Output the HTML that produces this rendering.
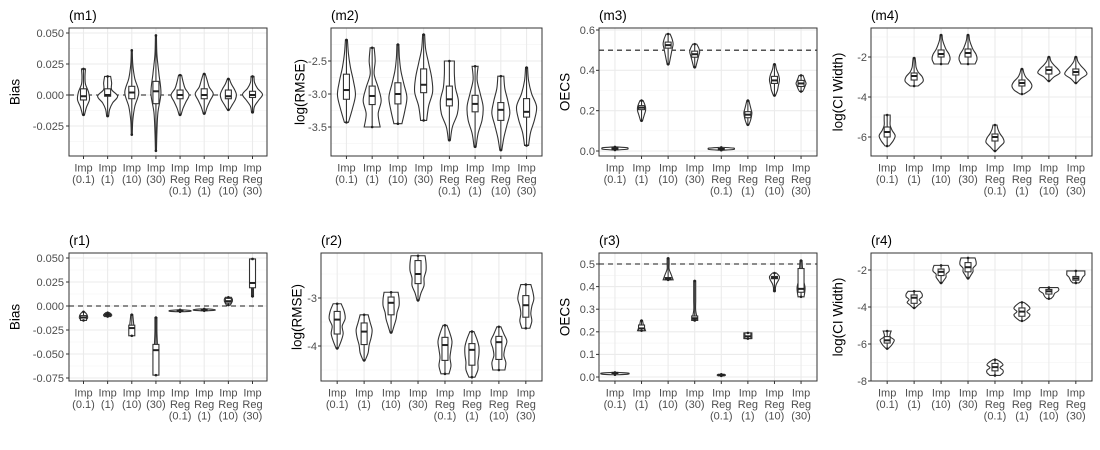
<!DOCTYPE html>
<html><head><meta charset="utf-8"><style>
body{margin:0;background:#fff;}
svg{display:block;font-family:"Liberation Sans",Arial,sans-serif;}
</style></head><body>
<svg id="chart" width="1100" height="450" viewBox="0 0 1100 450" xmlns="http://www.w3.org/2000/svg"></svg>
<script>
const categories = [["Imp","(0.1)"],["Imp","(1)"],["Imp","(10)"],["Imp","(30)"],["Imp","Reg","(0.1)"],["Imp","Reg","(1)"],["Imp","Reg","(10)"],["Imp","Reg","(30)"]];
const panelTitles = ["(m1)","(m2)","(m3)","(m4)","(r1)","(r2)","(r3)","(r4)"];
const axisTitles = ["Bias","log(RMSE)","OECS","log(CI Width)","Bias","log(RMSE)","OECS","log(CI Width)"];
const tickLabelsM1 = ["0.050","0.025","0.000","-0.025"];
const tickLabelsM2 = ["-2.5","-3.0","-3.5"];
const tickLabelsM3 = ["0.6","0.4","0.2","0.0"];
const tickLabelsM4 = ["-2","-4","-6"];
const tickLabelsR1 = ["0.050","0.025","0.000","-0.025","-0.050","-0.075"];
const tickLabelsR2 = ["-3","-4"];
const tickLabelsR3 = ["0.5","0.4","0.3","0.2","0.1","0.0"];
const tickLabelsR4 = ["-2","-4","-6","-8"];
const refLines = [0, null, 0.5, null, 0, null, 0.5, null];
// each violin: [min, max, q1, median, q3], density profile (bottom->top)
const statsM1 = [[-.016,.021,-.004,-.001,.005],[-.017,.015,-.001,0,.005],[-.032,.036,-.003,.002,.007],[-.045,.048,-.007,.003,.011],[-.016,.016,-.003,0,.004],[-.015,.017,-.003,0,.005],[-.012,.013,-.003,-.001,.004],[-.014,.015,-.002,0,.003]];
const densM1 = [[1,3,6,5,2,1.5,2],[1,2,5,10,4,4,3],[.5,1,3,7,3,1,.5],[.5,1,2,5,3,1,.5],[1,3,6,9,5,3,1.5],[1,3,6,9,5,3,1],[1,4,7,8,6,3,1],[1,2,6,10,5,2,1.5]];
const statsM2 = [[-3.43,-2.18,-3.08,-2.94,-2.70],[-3.50,-2.30,-3.16,-3.03,-2.88],[-3.45,-2.25,-3.15,-3.00,-2.83],[-3.40,-2.10,-2.98,-2.86,-2.62],[-3.70,-2.50,-3.18,-3.08,-2.88],[-3.80,-2.58,-3.27,-3.15,-3.02],[-3.85,-2.73,-3.40,-3.24,-3.13],[-3.78,-2.60,-3.35,-3.27,-3.07]];
const densM2 = [[2,6,9,7,4,2,1],[8,6,9,6,2,3,2],[4,7,9,6,3,1.5,1],[3,5,9,8,5,2,1],[1,3,8,9,6,5,5],[1,3,7,8,5,2,3],[1,3,6,9,7,4,3],[2,4,8,10,5,2,1]];
const statsM3 = [[.005,.02,.01,.012,.015],[.15,.25,.205,.215,.225],[.43,.58,.51,.525,.54],[.415,.53,.465,.48,.495],[.004,.018,.008,.01,.012],[.13,.25,.165,.18,.195],[.275,.43,.335,.35,.37],[.295,.375,.32,.335,.35]];
const densM3 = [[2,12,13,12,2],[1,2,3,4,4,3,1.5],[1,2,3,4,5,4,2],[1,2,3,4,5,4,2],[2,12,13,12,2],[1,2.5,3.5,4,3,2,1],[1,3,4,5,4,2,1],[1.5,3,4,5,4,3,2]];
const statsM4 = [[-6.45,-4.9,-6.0,-5.75,-5.5],[-3.45,-2.05,-3.15,-2.95,-2.8],[-2.35,-0.9,-2.0,-1.85,-1.65],[-2.35,-0.9,-2.0,-1.8,-1.6],[-6.7,-5.4,-6.2,-6.0,-5.85],[-3.85,-2.6,-3.45,-3.3,-3.15],[-3.2,-2.0,-2.85,-2.65,-2.5],[-3.3,-2.0,-2.9,-2.75,-2.6]];
const densM4 = [[2,6,8,5,3,3,3],[4,9,8,4,2,1.5,1],[7,9,8,5,3,1.5,1],[7,9,8,5,3,1.5,1],[1,5,9,8,5,3,2],[2,8,10,8,4,2,1],[1,5,11,9,5,2,1],[1,5,11,9,5,2,1]];
const statsR1 = [[-.015,-.006,-.015,-.012,-.010],[-.011,-.007,-.0105,-.009,-.008],[-.031,-.009,-.031,-.023,-.020],[-.072,-.012,-.072,-.046,-.040],[-.006,-.004,-.0055,-.005,-.0045],[-.005,-.003,-.0048,-.0042,-.0035],[.001,.009,.003,.005,.008],[.010,.049,.019,.024,.049]];
const densR1 = [[2,4,4,3,1],[3,4,4,3,2],[1,2,2,1.5,1],[1,1.5,1.5,1,1],[3,10,11,9,2],[3,10,11,9,2],[2,3,4,4,3],[1,1,1.5,1.5,1]];
const statsR2 = [[-4.05,-3.12,-3.75,-3.45,-3.28],[-4.30,-3.35,-3.97,-3.70,-3.52],[-3.72,-2.88,-3.35,-3.10,-2.98],[-3.05,-2.12,-2.70,-2.50,-2.22],[-4.58,-3.57,-4.30,-3.98,-3.82],[-4.65,-3.70,-4.40,-4.08,-3.95],[-4.50,-3.60,-4.28,-3.92,-3.80],[-3.63,-2.72,-3.40,-3.15,-2.95]];
const densR2 = [[1,4,6,5,8,7,4],[1,4,5,7,8,6,4],[1,3,5,6,8,8,7],[1,3,6,6,8,8,7],[4,6,5,6,7,5,2],[3,6,6,7,7,5,2],[6,7,5,6,8,5,2],[4,6,5,6,8,7,5]];
const statsR3 = [[.01,.02,.015,.018,.02],[.205,.25,.205,.215,.23],[.43,.525,.43,.435,.44],[.25,.425,.255,.26,.27],[.005,.012,.007,.009,.011],[.17,.195,.17,.18,.195],[.38,.46,.435,.44,.445],[.355,.515,.375,.39,.48]];
const densR3 = [[3,13,14,13,3],[4,3,2,1.5,1],[5,3,1,1,1],[3,1,1,1,1],[3,4,4,3],[4,4,4,4],[1,1,2,4,5,2],[3,4,2,1.5,1]];
const statsR4 = [[-6.25,-5.3,-5.95,-5.8,-5.6],[-4.05,-3.15,-3.8,-3.5,-3.35],[-2.7,-1.75,-2.3,-2.1,-1.95],[-2.45,-1.35,-2.1,-1.85,-1.6],[-7.7,-6.85,-7.45,-7.25,-7.05],[-4.75,-3.75,-4.5,-4.25,-4.05],[-3.55,-2.95,-3.3,-3.15,-3.05],[-2.7,-2.05,-2.55,-2.45,-2.35]];
const densR4 = [[1,4,6,7,3,3,4],[1,4,7,5,8,8,6],[1,3,5,5,8,8,7],[1,3,5,5,8,8,7],[5,8,8,5,8,6,2],[2,6,8,5,8,6,2],[2,4,5,6,9,10,9],[3,5,6,7,9,9,9]];

const NS="http://www.w3.org/2000/svg";
const svg=document.getElementById('chart');
function mk(tag,attrs,parent){const e=document.createElementNS(NS,tag);for(const k in attrs)e.setAttribute(k,attrs[k]);(parent||svg).appendChild(e);return e;}

const layouts=[
 {box:[69,267,28,156],ref:[[0.05,33],[0,95]],ticks:tickLabelsM1,titleX:15,labR:64},
 {box:[331,542,28,156],ref:[[-2.5,61],[-3.0,94]],ticks:tickLabelsM2,titleX:300,labR:327},
 {box:[599,817,28,156],ref:[[0.6,30],[0,151]],ticks:tickLabelsM3,titleX:565,labR:595},
 {box:[871,1092,28,156],ref:[[-2,57],[-6,137]],ticks:tickLabelsM4,titleX:838,labR:867},
 {box:[69,267,253,381],ref:[[0.05,258],[0,306]],ticks:tickLabelsR1,titleX:15,labR:64},
 {box:[321,542,253,381],ref:[[-3,298],[-4,346]],ticks:tickLabelsR2,titleX:297,labR:317},
 {box:[599,817,253,381],ref:[[0.5,264],[0,377]],ticks:tickLabelsR3,titleX:565,labR:595},
 {box:[871,1092,253,381],ref:[[-2,270],[-8,381]],ticks:tickLabelsR4,titleX:838,labR:867}
];
const allStats=[statsM1,statsM2,statsM3,statsM4,statsR1,statsR2,statsR3,statsR4];
const allDens=[densM1,densM2,densM3,densM4,densR1,densR2,densR3,densR4];

function smoothPath(pts){
  let d='';
  for(let i=0;i<pts.length-1;i++){
    const p0=pts[Math.max(0,i-1)],p1=pts[i],p2=pts[i+1],p3=pts[Math.min(pts.length-1,i+2)];
    const c1=[p1[0]+(p2[0]-p0[0])/6,p1[1]+(p2[1]-p0[1])/6];
    const c2=[p2[0]-(p3[0]-p1[0])/6,p2[1]-(p3[1]-p1[1])/6];
    d+=` C${c1[0].toFixed(2)},${c1[1].toFixed(2)} ${c2[0].toFixed(2)},${c2[1].toFixed(2)} ${p2[0].toFixed(2)},${p2[1].toFixed(2)}`;
  }
  return d;
}

layouts.forEach((L,pi)=>{
  const [x0,x1,y0,y1]=L.box;
  const [[va,pa],[vb,pb]]=L.ref;
  const yScale=v=>pa+(v-va)*(pb-pa)/(vb-va);
  const inv=p=>va+(p-pa)*(vb-va)/(pb-pa);
  const n=categories.length, unit=(x1-x0)/(n-1+1.2);
  const xScale=i=>x0+unit*(0.6+i);
  const g=mk('g',{});  
  const tv=L.ticks.map(Number);
  const step=Math.abs(tv[0]-tv[1]);
  const lo=inv(y1), hi=inv(y0);
  for(let v=Math.floor(Math.min(lo,hi)/step)*step-step/2; v<=Math.max(lo,hi)+step; v+=step){
    const y=yScale(v); if(y>y0&&y<y1) mk('line',{x1:x0,x2:x1,y1:y,y2:y,stroke:'#f2f2f2','stroke-width':0.6},g);
  }
  tv.forEach(v=>{const y=yScale(v);mk('line',{x1:x0,x2:x1,y1:y,y2:y,stroke:'#ebebeb','stroke-width':1.1},g);});
  for(let i=0;i<n;i++){const x=xScale(i);mk('line',{x1:x,x2:x,y1:y0,y2:y1,stroke:'#ebebeb','stroke-width':1.1},g);}
  if(refLines[pi]!==null){const y=yScale(refLines[pi]);const r=mk('line',{x1:x0,x2:x1,y1:y,y2:y,stroke:'#1a1a1a','stroke-width':1.1,'stroke-dasharray':'5,4'},g);}
  allStats[pi].forEach((s,i)=>{
    const [mn,mx,q1,md,q3]=s; const dens=allDens[pi][i]; const cx=xScale(i);
    const pts=dens.map((w,k)=>[w, yScale(mn+(mx-mn)*k/(dens.length-1))]);
    const right=pts.slice().reverse().map(p=>[cx+p[0],p[1]]);
    const left=pts.map(p=>[cx-p[0],p[1]]);
    let d=`M${left[0][0]},${left[0][1]}`+smoothPath(left)+` L${right[0][0]},${right[0][1]}`+smoothPath(right)+' Z';
    const vp=mk('path',{d:d,fill:'#fff',stroke:'#333','stroke-width':1.1},g);
    
    
    mk('line',{x1:cx,x2:cx,y1:yScale(mn),y2:yScale(q1),stroke:'#333','stroke-width':1.1},g);
    mk('line',{x1:cx,x2:cx,y1:yScale(q3),y2:yScale(mx),stroke:'#333','stroke-width':1.1},g);
    const bx=mk('rect',{x:cx-3,y:yScale(q3),width:6,height:Math.max(1,yScale(q1)-yScale(q3)),fill:'#fff',stroke:'#333','stroke-width':1.1},g);
    
    
    mk('line',{x1:cx-3,x2:cx+3,y1:yScale(md),y2:yScale(md),stroke:'#222','stroke-width':2},g);
    mk('circle',{cx:cx,cy:yScale(mn),r:1.3,fill:'#222'},g);
    mk('circle',{cx:cx,cy:yScale(mx),r:1.3,fill:'#222'},g);
  });
  const border=mk('rect',{x:x0,y:y0,width:x1-x0,height:y1-y0,fill:'none',stroke:'#333','stroke-width':1},g);
  
  
  L.ticks.forEach((t,k)=>{const y=yScale(tv[k]);
    mk('line',{x1:x0-3,x2:x0,y1:y,y2:y,stroke:'#333'},g);
    const tx=mk('text',{x:L.labR,y:y+3.8,'text-anchor':'end','font-size':11,fill:'#4d4d4d'},g);tx.textContent=t;
    });
  categories.forEach((c,i)=>{const x=xScale(i);
    mk('line',{x1:x,x2:x,y1:y1,y2:y1+3,stroke:'#333'},g);
    c.forEach((ln,j)=>{const tx=mk('text',{x:x,y:y1+15.5+j*11.6,'text-anchor':'middle','font-size':11,fill:'#4d4d4d'},g);tx.textContent=ln;
      });
  });
  const tt=mk('text',{x:x0,y:y0-8,'font-size':13.5,fill:'#000'},g);tt.textContent=panelTitles[pi];
  
  const cy=(y0+y1)/2;
  const at=mk('text',{x:L.titleX,y:cy,'font-size':13.5,fill:'#000','text-anchor':'middle',transform:`rotate(-90 ${L.titleX} ${cy}) translate(0 4.5)`},g);at.textContent=axisTitles[pi];
  
});
</script>
</body></html>
